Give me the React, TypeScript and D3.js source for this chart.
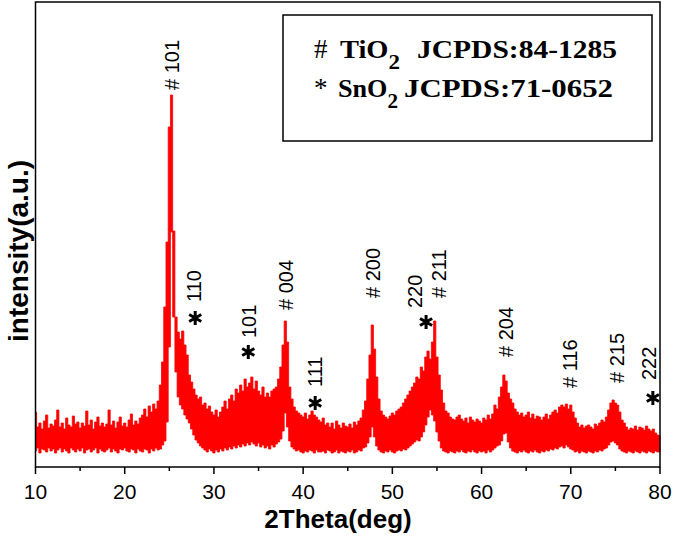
import { useEffect, useRef } from 'react';
import * as d3 from 'd3';

// XRD scan: one upper and one lower edge value per 0.25 deg
const thetaStart = 10;
const thetaStep = 0.25;

// upper edge of the noisy trace (a.u.), rows of 1 deg from 10 to 80
const upper: number[] = [
  55, 40, 44, 38, 46, 52, 39, 43, 41, 47, 57, 40, 44, 38, 49, 42, // 10-13
  40, 51, 43, 45, 39, 44, 41, 56, 42, 47, 38, 45, 50, 41, 44, 40, // 14-17
  43, 57, 42, 46, 39, 45, 50, 41, 44, 40, 47, 53, 42, 46, 43, 49, // 18-21
  52, 58, 50, 61, 55, 63, 58, 66, 82, 105, 160, 225, 340, 372, 236, 150, // 22-25
  135, 128, 136, 122, 112, 92, 85, 78, 72, 68, 70, 62, 64, 58, 61, 55, // 26-29
  52, 57, 50, 55, 60, 66, 58, 68, 72, 66, 78, 74, 82, 76, 88, 80, // 30-33
  84, 90, 78, 86, 76, 72, 80, 70, 74, 70, 76, 78, 80, 88, 100, 122, // 34-37
  146, 125, 80, 68, 60, 56, 54, 52, 50, 54, 48, 52, 56, 52, 50, 47, // 38-41
  45, 49, 42, 44, 40, 44, 38, 46, 42, 39, 44, 41, 40, 43, 39, 45, // 42-45
  42, 46, 49, 57, 66, 88, 112, 142, 118, 90, 68, 56, 52, 50, 48, 51, // 46-49
  54, 52, 56, 58, 60, 64, 68, 72, 76, 80, 84, 90, 88, 100, 96, 110, // 50-53
  116, 108, 125, 146, 110, 92, 77, 64, 56, 54, 50, 48, 47, 50, 52, 48, // 54-57
  46, 49, 44, 50, 47, 45, 48, 46, 44, 49, 47, 52, 48, 53, 62, 58, // 58-61
  70, 80, 92, 86, 74, 68, 64, 58, 55, 52, 54, 50, 52, 55, 49, 53, // 62-65
  48, 51, 50, 47, 50, 53, 48, 52, 55, 57, 54, 60, 62, 60, 63, 58, // 66-69
  62, 55, 49, 44, 40, 42, 39, 41, 42, 40, 38, 43, 41, 44, 47, 45, // 70-73
  50, 57, 64, 67, 64, 62, 55, 47, 44, 40, 37, 39, 38, 41, 37, 40, // 74-77
  39, 37, 41, 38, 36, 38, 34, 32, 31, // 78-80
];

// lower edge of the noisy trace (a.u.)
const lower: number[] = [
  16, 19, 14, 18, 17, 15, 19, 16, 18, 14, 17, 19, 15, 18, 16, 14, // 10-13
  19, 17, 15, 18, 16, 19, 14, 17, 18, 15, 17, 19, 14, 18, 16, 15, // 14-17
  17, 19, 15, 18, 16, 14, 18, 17, 19, 16, 15, 18, 17, 14, 18, 16, // 18-21
  15, 18, 17, 14, 18, 16, 19, 17, 18, 22, 26, 45, 120, 235, 150, 95, // 22-25
  70, 62, 58, 52, 48, 44, 38, 32, 27, 24, 21, 19, 17, 15, 18, 16, // 26-29
  14, 17, 15, 18, 16, 19, 17, 20, 18, 21, 19, 22, 20, 23, 21, 24, // 30-33
  22, 25, 23, 21, 24, 20, 22, 19, 21, 18, 22, 20, 23, 25, 28, 36, // 34-37
  54, 40, 26, 20, 18, 16, 17, 15, 14, 16, 15, 17, 16, 14, 17, 15, // 38-41
  15, 16, 14, 17, 16, 14, 15, 17, 14, 16, 15, 14, 16, 15, 17, 14, // 42-45
  15, 17, 16, 19, 20, 24, 30, 40, 30, 21, 17, 15, 14, 16, 15, 17, // 46-49
  15, 14, 16, 17, 16, 18, 17, 19, 21, 23, 25, 27, 26, 30, 35, 42, // 50-53
  50, 57, 52, 46, 35, 26, 19, 16, 15, 14, 16, 15, 14, 16, 15, 17, // 54-57
  15, 14, 16, 15, 17, 15, 14, 16, 15, 16, 14, 17, 15, 17, 19, 21, // 58-61
  22, 26, 33, 34, 25, 19, 16, 15, 14, 16, 15, 17, 15, 14, 16, 15, // 62-65
  17, 15, 14, 16, 15, 17, 16, 18, 17, 19, 18, 20, 21, 19, 22, 20, // 66-69
  18, 17, 15, 16, 14, 16, 15, 14, 16, 15, 14, 16, 15, 17, 16, 18, // 70-73
  19, 22, 25, 26, 24, 22, 18, 16, 15, 14, 16, 15, 14, 16, 15, 14, // 74-77
  16, 15, 14, 16, 15, 14, 16, 15, 15, // 78-80
];

const xTicks = [10, 20, 30, 40, 50, 60, 70, 80];
const xMinorTicks = [15, 25, 35, 45, 55, 65, 75];

// anatase TiO2 reflections (#): label foot position
const tioHkl = ['101', '004', '200', '211', '204', '116', '215'];
const tioTheta = [25.3, 38.08, 47.84, 55.24, 62.75, 69.9, 75.2];
const tioLevel = [377, 157, 169, 169, 110, 79, 84];

// SnO2 reflections (*): label foot position and star position
const snoHkl = ['110', '101', '111', '220', '222'];
const snoTheta = [27.77, 33.9, 41.35, 52.55, 78.8];
const snoLevel = [165, 129, 80, 159, 87];
const starTheta = [27.9, 33.85, 41.35, 53.78, 79.2];
const starLevel = [149, 115, 64, 145, 69];

const App: React.FC = () => {
  const svgRef = useRef<SVGSVGElement | null>(null);

  useEffect(() => {
    if (!svgRef.current) return;

    const width = 675;
    const height = 536;
    const left = 35.5;
    const right = 660;
    const top = 2;
    const bottom = 467;

    const x = d3.scaleLinear().domain([10, 80]).range([left, right]);
    const y = d3.scaleLinear().domain([0, 465]).range([bottom, top]);

    const svg = d3.select(svgRef.current);
    svg.selectAll('*').remove();
    svg.attr('width', width).attr('height', height);

    const scan = upper.map((hi, i) => ({
      theta: thetaStart + i * thetaStep,
      hi,
      lo: lower[i],
    }));

    const band = d3
      .area<{ theta: number; hi: number; lo: number }>()
      .x((d) => x(d.theta))
      .y0((d) => y(d.lo))
      .y1((d) => y(d.hi))
      .curve(d3.curveStep);

    svg
      .append('path')
      .attr('d', band(scan) ?? '')
      .attr('fill', '#ff0000')
      .attr('stroke', '#ff0000')
      .attr('stroke-width', 0.8);

    // frame
    svg
      .append('rect')
      .attr('x', left)
      .attr('y', top)
      .attr('width', right - left)
      .attr('height', bottom - top)
      .attr('fill', 'none')
      .attr('stroke', '#000')
      .attr('stroke-width', 1.5);

    // bottom ticks
    const tickG = svg.append('g').attr('stroke', '#000').attr('stroke-width', 1.5);
    tickG
      .selectAll('.major')
      .data(xTicks)
      .enter()
      .append('line')
      .attr('x1', (d) => x(d))
      .attr('x2', (d) => x(d))
      .attr('y1', bottom)
      .attr('y2', bottom + 7);
    tickG
      .selectAll('.minor')
      .data(xMinorTicks)
      .enter()
      .append('line')
      .attr('x1', (d) => x(d))
      .attr('x2', (d) => x(d))
      .attr('y1', bottom)
      .attr('y2', bottom + 4);

    svg
      .append('g')
      .selectAll('text')
      .data(xTicks)
      .enter()
      .append('text')
      .attr('x', (d) => x(d))
      .attr('y', 499)
      .attr('text-anchor', 'middle')
      .attr('font-family', 'Arial, "Liberation Sans", sans-serif')
      .attr('font-size', 21)
      .attr('fill', '#000')
      .text((d) => d);

    // axis titles
    svg
      .append('text')
      .attr('x', 338)
      .attr('y', 528)
      .attr('text-anchor', 'middle')
      .attr('font-family', 'Arial, "Liberation Sans", sans-serif')
      .attr('font-weight', 'bold')
      .attr('font-size', 26)
      .text('2Theta(deg)');

    svg
      .append('text')
      .attr('transform', 'translate(28,251) rotate(-90)')
      .attr('text-anchor', 'middle')
      .attr('font-family', 'Arial, "Liberation Sans", sans-serif')
      .attr('font-weight', 'bold')
      .attr('font-size', 28)
      .text('intensity(a.u.)');

    // peak labels
    const labelFont = 'Arial, "Liberation Sans", sans-serif';
    const tioG = svg.append('g');
    tioHkl.forEach((hkl, i) => {
      tioG
        .append('text')
        .attr('transform', `translate(${x(tioTheta[i]) + 7},${y(tioLevel[i])}) rotate(-90)`)
        .attr('font-family', labelFont)
        .attr('font-size', 20)
        .attr('fill', '#000')
        .text(`# ${hkl}`);
    });

    const snoG = svg.append('g');
    snoHkl.forEach((hkl, i) => {
      snoG
        .append('text')
        .attr('transform', `translate(${x(snoTheta[i]) + 7},${y(snoLevel[i])}) rotate(-90)`)
        .attr('font-family', labelFont)
        .attr('font-size', 20)
        .attr('fill', '#000')
        .text(hkl);

      const cx = x(starTheta[i]);
      const cy = y(starLevel[i]);
      const r = 7;
      const arms = [90, 30, 150].map((a) => {
        const rad = (a * Math.PI) / 180;
        const dx = r * Math.cos(rad);
        const dy = r * Math.sin(rad);
        return `M${cx - dx},${cy - dy}L${cx + dx},${cy + dy}`;
      });
      snoG
        .append('path')
        .attr('d', arms.join(''))
        .attr('stroke', '#000')
        .attr('stroke-width', 3);
    });

    // legend box
    svg
      .append('rect')
      .attr('x', 283)
      .attr('y', 15)
      .attr('width', 369)
      .attr('height', 126)
      .attr('fill', '#fff')
      .attr('stroke', '#000')
      .attr('stroke-width', 1.5);

    const serif = '"Times New Roman", "Liberation Serif", serif';
    const rows = [
      { mark: '#', formula: 'TiO', card: 'JCPDS:84-1285', base: 58, fx: 340, fw: 60, cx: 417, cw: 200 },
      { mark: '*', formula: 'SnO', card: 'JCPDS:71-0652', base: 97, fx: 338, fw: 60, cx: 404, cw: 209 },
    ];
    rows.forEach((row) => {
      const g = svg.append('g').attr('font-family', serif).attr('fill', '#000');
      g.append('text')
        .attr('x', 314)
        .attr('y', row.base)
        .attr('font-size', 27)
        .text(row.mark);
      const f = g
        .append('text')
        .attr('x', row.fx)
        .attr('y', row.base)
        .attr('font-size', 26)
        .attr('font-weight', 'bold')
        .attr('textLength', row.fw)
        .attr('lengthAdjust', 'spacingAndGlyphs');
      f.append('tspan').text(row.formula);
      f.append('tspan').attr('dy', 11).attr('font-size', 21).text('2');
      g.append('text')
        .attr('x', row.cx)
        .attr('y', row.base)
        .attr('font-size', 26)
        .attr('font-weight', 'bold')
        .attr('textLength', row.cw)
        .attr('lengthAdjust', 'spacingAndGlyphs')
        .text(row.card);
    });
  }, []);

  return (
    <div>
      <svg ref={svgRef} style={{ position: 'absolute', left: 0, top: 0 }}></svg>
    </div>
  );
};

export default App;
